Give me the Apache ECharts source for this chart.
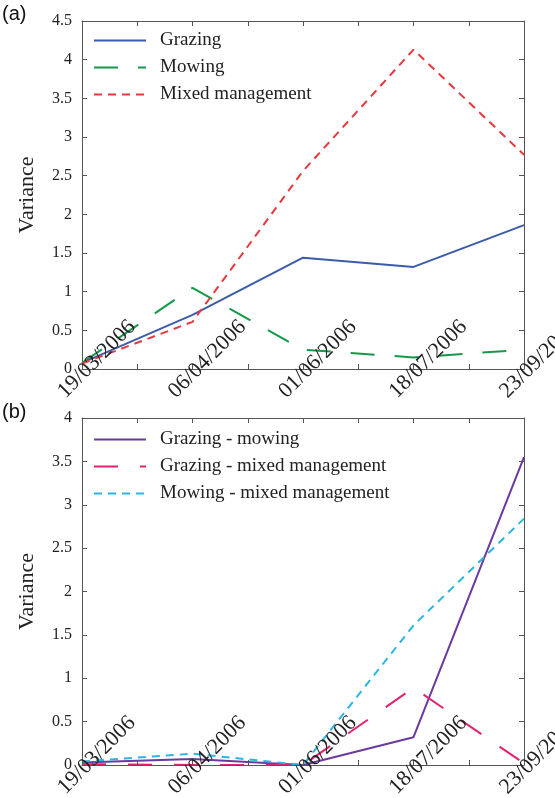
<!DOCTYPE html>
<html>
<head>
<meta charset="utf-8">
<script src="https://cdn.jsdelivr.net/npm/echarts@6/dist/echarts.min.js"></script>
<style>
html, body { margin: 0; padding: 0; background: #fff; }
#chart { width: 555px; height: 798px; }
</style>
</head>
<body>
<div id="chart"></div>
<script>
// sampling dates (equally spaced on the axis)
const dates = ["19/03/2006", "06/04/2006", "01/06/2006", "18/07/2006", "23/09/2006"];

// panel (a)
const grazing = [0.08, 0.70, 1.44, 1.32, 1.86];
const mowing = [0.08, 1.05, 0.25, 0.15, 0.25];
const mixed = [0.07, 0.61, 2.56, 4.13, 2.77];

// panel (b)
const grazingMowing = [0.03, 0.07, 0.00, 0.32, 3.55];
const grazingMixed = [0.01, 0.00, 0.00, 0.89, 0.02];
const mowingMixed = [0.04, 0.13, 0.00, 1.61, 2.84];

const yMaxA = 4.5;
const yMaxB = 4;

const SERIF = "Liberation Serif";
const AXIS_COLOR = "#555";
const TEXT_COLOR = "#222";

function pts(values) {
    return values.map((v, i) => [i, v]);
}

function xAxes(gi) {
    const common = {
        type: "value",
        gridIndex: gi,
        min: 0,
        max: dates.length - 1,
        interval: 0.5,
        splitLine: { show: false },
        axisLine: { show: true, onZero: false, lineStyle: { color: AXIS_COLOR, width: 1 } },
        axisTick: { show: true, inside: true, length: 5, lineStyle: { color: AXIS_COLOR } }
    };
    return [
        Object.assign({}, common, {
            position: "bottom",
            z: 5,
            axisLabel: {
                rotate: 45,
                align: "center",
                verticalAlign: "middle",
                margin: 5,
                padding: [0, 0, 0, 42],
                fontFamily: SERIF,
                fontSize: 22,
                color: TEXT_COLOR,
                showMinLabel: true,
                showMaxLabel: true,
                hideOverlap: false,
                formatter: v => Number.isInteger(v) ? dates[v] : ""
            }
        }),
        Object.assign({}, common, { position: "top", axisLabel: { show: false } })
    ];
}

function yAxes(gi, max) {
    const common = {
        type: "value",
        gridIndex: gi,
        min: 0,
        max: max,
        interval: 0.5,
        splitLine: { show: false },
        axisLine: { show: true, onZero: false, lineStyle: { color: AXIS_COLOR, width: 1 } },
        axisTick: { show: true, inside: true, length: 5, lineStyle: { color: AXIS_COLOR } }
    };
    return [
        Object.assign({}, common, {
            position: "left",
            name: "Variance",
            nameLocation: "middle",
            nameGap: 44,
            nameTextStyle: { fontFamily: SERIF, fontSize: 22, color: TEXT_COLOR },
            axisLabel: {
                fontFamily: SERIF, fontSize: 16, color: TEXT_COLOR, margin: 10,
                showMinLabel: true, showMaxLabel: true, hideOverlap: false
            }
        }),
        Object.assign({}, common, { position: "right", axisLabel: { show: false } })
    ];
}

function line(name, values, gi, color, dash) {
    return {
        name: name,
        type: "line",
        xAxisIndex: gi * 2,
        yAxisIndex: gi * 2,
        data: pts(values),
        symbol: "none",
        lineStyle: { color: color, width: 2, type: dash },
        itemStyle: { color: color },
        z: 2
    };
}

const legendBase = {
    orient: "vertical",
    left: 93,
    padding: 0,
    itemWidth: 52,
    itemHeight: 14,
    itemGap: 8,
    itemStyle: { opacity: 0 },
    textStyle: { fontFamily: SERIF, fontSize: 19, color: TEXT_COLOR, padding: [0, 0, 0, 9] }
};

const chart = echarts.init(document.getElementById("chart"), null, { renderer: "canvas" });
chart.setOption({
    backgroundColor: "#fff",
    animation: false,
    grid: [
        { left: 82, top: 21, width: 442, height: 348, outerBoundsMode: "none", containLabel: false },
        { left: 82, top: 418, width: 442, height: 347, outerBoundsMode: "none", containLabel: false }
    ],
    xAxis: xAxes(0).concat(xAxes(1)),
    yAxis: yAxes(0, yMaxA).concat(yAxes(1, yMaxB)),
    legend: [
        Object.assign({}, legendBase, {
            data: ["Grazing", "Mowing", "Mixed management"],
            top: 31
        }),
        Object.assign({}, legendBase, {
            data: ["Grazing - mowing", "Grazing - mixed management", "Mowing - mixed management"],
            top: 430
        })
    ],
    graphic: [
        { type: "text", left: 2, top: 4, style: { text: "(a)", font: "20px Liberation Sans", fill: "#111" } },
        { type: "text", left: 2, top: 402, style: { text: "(b)", font: "20px Liberation Sans", fill: "#111" } }
    ],
    series: [
        line("Grazing", grazing, 0, "#3b5bab", "solid"),
        line("Mowing", mowing, 0, "#14994a", [24, 20]),
        line("Mixed management", mixed, 0, "#e8383d", [8, 6]),
        line("Grazing - mowing", grazingMowing, 1, "#6b3aa1", "solid"),
        line("Grazing - mixed management", grazingMixed, 1, "#e2236f", [24, 22]),
        line("Mowing - mixed management", mowingMixed, 1, "#2bb5e3", [8, 6])
    ]
});
</script>
</body>
</html>
